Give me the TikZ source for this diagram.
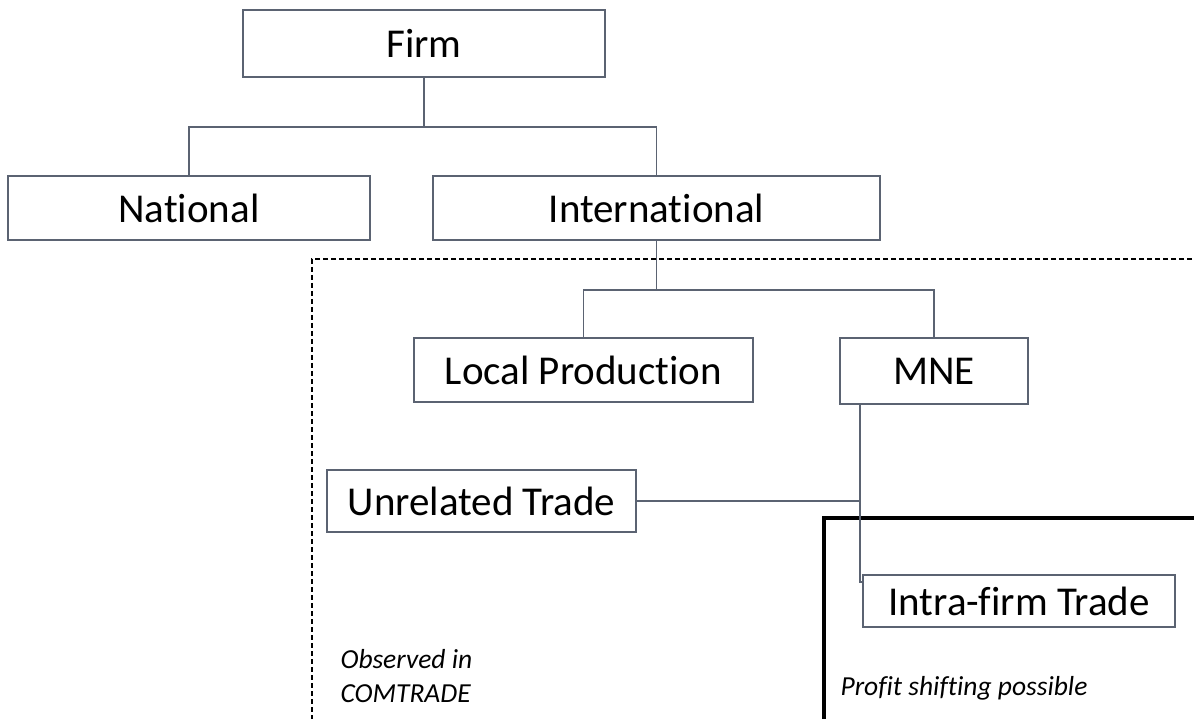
\documentclass[tikz,border=0pt]{standalone}
\usepackage{fontspec}
\setmainfont{Carlito}[Ligatures=CommonOff]
\usepackage{tikz}
\definecolor{boxline}{HTML}{5B6372}

\begin{document}
\begin{tikzpicture}[
            x = 1pt, y = -1pt, % one unit per pixel, y pointing down
            block/.style = {draw=boxline, line width=1.6pt, inner sep=0pt,
                            font=\fontsize{41}{49}\selectfont}, % tree boxes
            link/.style = {draw=boxline, line width=1.6pt}, % tree lines
            note/.style = {font=\fontsize{27.5}{34}\selectfont\itshape,
                           align=left, anchor=base west} % region captions
        ]
	\clip (0,0) rectangle (1194,719);

	% regions
	\draw[line width=1.3pt, dash pattern=on 5pt off 3pt] (1200,259) -- (312,259) -- (312,725);
	\draw[line width=4pt] (1200,518) -- (824,518) -- (824,725);

	\node[block, minimum width=362, minimum height=67] (firm) at (424,43.5) {Firm};
	\node[block, minimum width=362, minimum height=64] (national) at (189,208) {National};
	\node[block, minimum width=447, minimum height=64] (intl) at (656.5,208) {International};
	\node[block, minimum width=339, minimum height=64] (local) at (583.5,370) {Local Production};
	\node[block, minimum width=188, minimum height=66] (mne) at (934,371) {MNE};
	\node[block, minimum width=309, minimum height=62] (unrel) at (481.5,501) {Unrelated Trade};
	\node[block, minimum width=312, minimum height=52] (intra) at (1019,601) {Intra-firm Trade};

	\coordinate (split1) at (firm.south |- 0,127);
	\coordinate (split2) at (intl.south |- 0,290);
	\coordinate (stem) at ([xshift=-74pt]mne.south);
	\coordinate (joint) at (stem |- unrel.east);
	\coordinate (elbow) at (stem |- 0,582);

	\draw[link] (firm.south) -- (split1) -| (national.north);
	\draw[link] (split1) -| (intl.north);
	\draw[link] (intl.south) -- (split2) -| (local.north);
	\draw[link] (split2) -| (mne.north);
	\draw[link] (stem) -- (elbow) -- (intra.west |- elbow);
	\draw[link] (unrel.east) -- (joint);

	\node[note] (observed) at (337,702) {Observed in\\COMTRADE};
	\node[note] (profit) at (837,695) {Profit shifting possible};

\end{tikzpicture}
\end{document}
